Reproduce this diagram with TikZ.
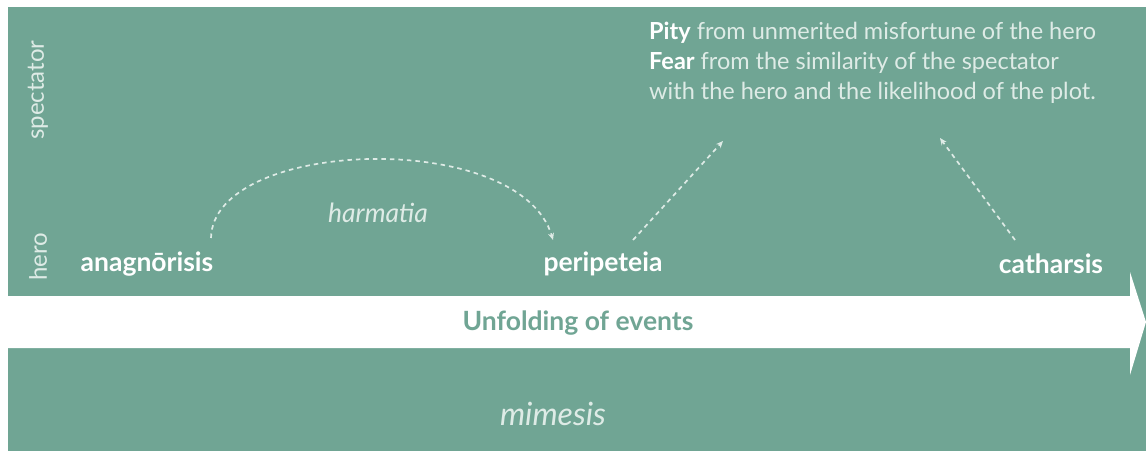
\documentclass[tikz,border=0pt]{standalone}
\usepackage{fontspec}
\setmainfont{Lato}
\usetikzlibrary{arrows.meta,calc}
\definecolor{sage}{RGB}{112,165,148}
\definecolor{pale}{RGB}{222,235,230}
\begin{document}
\begin{tikzpicture}[x=1pt,y=-1pt,
  stage/.style={text=white,font=\fontsize{26.5}{30}\selectfont\bfseries,inner sep=0pt},
  side/.style={text=pale,font=\fontsize{24}{28}\selectfont,rotate=90,inner sep=0pt},
  flow/.style={draw=pale,line width=1.7pt,dash pattern=on 4.5pt off 4pt,
    -{Stealth[length=7pt,width=6pt]}}]
\useasboundingbox (0,0) rectangle (1146,451);
\fill[white] (0,0) rectangle (1146,451);
\fill[sage] (8,7) rectangle (1146,451);
% time arrow
\fill[white] (8,296) -- (1130,296) -- (1130,272) -- (1146,322) -- (1130,375)
  -- (1130,348) -- (8,348) -- cycle;
\node[text=sage,font=\fontsize{26.5}{31}\selectfont\bfseries,inner sep=0pt] (unf) at (578,323) {Unfolding of events};
\node[text=pale,font=\fontsize{32}{36}\selectfont\itshape,inner sep=0pt] (mim) at (553,414) {mimesis};
% levels
\node[side] (spec) at (38,90) {spectator};
\node[side] (hero) at (38,257) {hero};
% stages
\node[stage] (ana) at (147,264) {anagnōrisis};
\node[stage] (per) at (603,264) {peripeteia};
\node[stage] (cat) at (1051,264) {catharsis};
\node[text=pale,font=\fontsize{26.5}{30}\selectfont\itshape,inner sep=0pt] (harm) at (378,213) {harmatia};
% emotions of the spectator
\node[anchor=north west,align=left,text=pale,inner sep=0pt,
  font=\fontsize{23.5}{30}\selectfont] (feel) at (649,22)
  {\textcolor{white}{\bfseries Pity} from unmerited misfortune of the hero\\
   \textcolor{white}{\bfseries Fear} from the similarity of the spectator\\
   with the hero and the likelihood of the plot.};
% connectors
\draw[flow] ($(ana)+(64,-26)$) .. controls ($(ana)+(66,-126)$)
  and ($(per)+(-83,-136)$) .. ($(per)+(-50,-24)$);
\draw[flow] ($(per)+(30,-24)$) -- ($(feel.north west)+(74,119)$);
\draw[flow] ($(cat)+(-36,-24)$) -- ($(feel.north west)+(291,116)$);
\end{tikzpicture}
\end{document}
